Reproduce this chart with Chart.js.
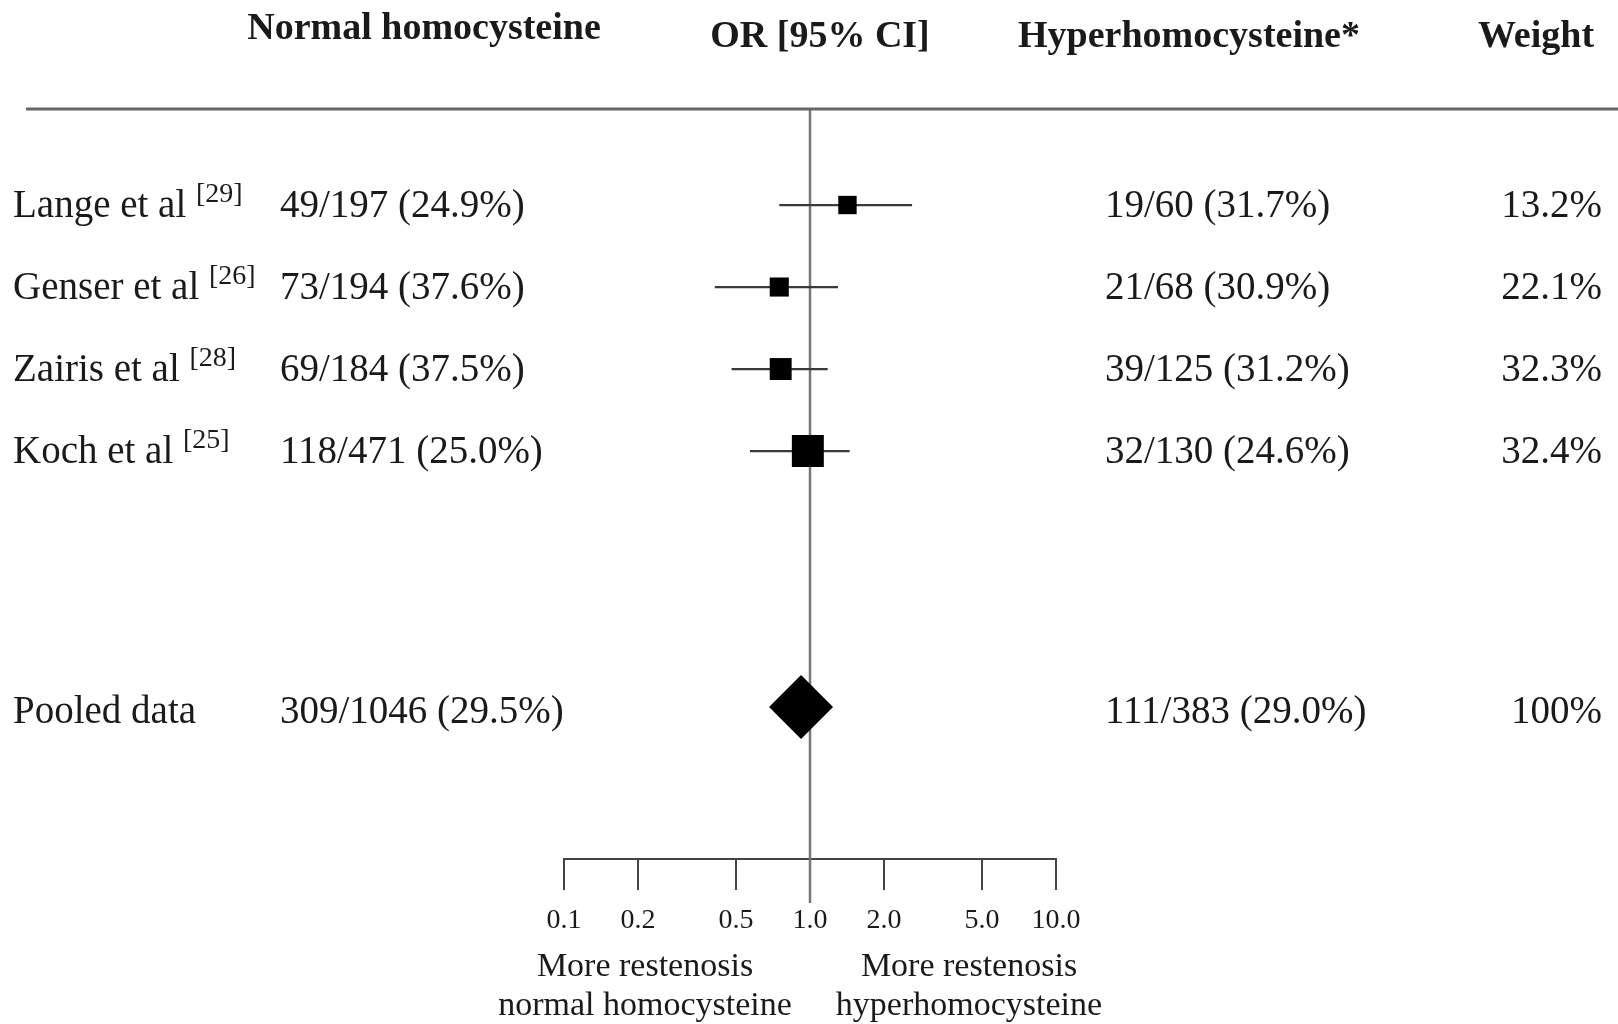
<!DOCTYPE html>
<html><head><meta charset="utf-8">
<script src="https://cdn.jsdelivr.net/npm/chart.js@4.4.1/dist/chart.umd.min.js"></script>
<style>html,body{margin:0;padding:0;background:#fff;overflow:hidden}canvas{display:block}</style>
</head><body>
<canvas id="c" width="1618" height="1024"></canvas>
<script>
// ---- data ----
const studies = ["Lange et al", "Genser et al", "Zairis et al", "Koch et al"];
const refs = ["[29]", "[26]", "[28]", "[25]"];
const normalCounts = ["49/197 (24.9%)", "73/194 (37.6%)", "69/184 (37.5%)", "118/471 (25.0%)"];
const hyperCounts = ["19/60 (31.7%)", "21/68 (30.9%)", "39/125 (31.2%)", "32/130 (24.6%)"];
const weights = ["13.2%", "22.1%", "32.3%", "32.4%"];
const oddsRatio = [1.42, 0.75, 0.76, 0.98];
const ciLow = [0.75, 0.41, 0.48, 0.57];
const ciHigh = [2.6, 1.30, 1.18, 1.45];
const rowPos = [1, 2, 3, 4];
const pooledLabel = "Pooled data";
const pooledNormal = "309/1046 (29.5%)";
const pooledHyper = "111/383 (29.0%)";
const pooledWeight = "100%";
const pooledOR = 0.92;
const pooledRow = 7.12;
const nullOR = 1;
const tickValues = [0.1, 0.2, 0.5, 1, 2, 5, 10];
const tickLabels = ["0.1", "0.2", "0.5", "1.0", "2.0", "5.0", "10.0"];
const headers = ["Normal homocysteine", "OR [95% CI]", "Hyperhomocysteine*", "Weight"];
const footLeft = ["More restenosis", "normal homocysteine"];
const footRight = ["More restenosis", "hyperhomocysteine"];

// ---- styles ----
const SERIF = '"Liberation Serif", "Times New Roman", serif';
const TEXT = '#1a1a1a';
const squareRadius = [13, 13.5, 15.5, 22.6];

const ciDatasets = rowPos.map((r, i) => ({
  type: 'line',
  data: [{x: ciLow[i], y: r}, {x: ciHigh[i], y: r}],
  borderColor: '#3a3a3a', borderWidth: 2.2, pointRadius: 0, order: 2
}));

const textPlugin = {
  id: 'forestText',
  beforeDatasetsDraw(chart) {
    const ctx = chart.ctx, xs = chart.scales.x;
    const x1 = xs.getPixelForValue(nullOR);
    ctx.save();
    ctx.strokeStyle = '#777';
    ctx.lineWidth = 2.5;
    ctx.beginPath();
    ctx.moveTo(x1, 109);
    ctx.lineTo(x1, 903);
    ctx.stroke();
    ctx.restore();
  },
  afterDraw(chart) {
    const ctx = chart.ctx, ys = chart.scales.y;
    ctx.save();
    // top rule
    ctx.strokeStyle = '#666';
    ctx.lineWidth = 3;
    ctx.beginPath(); ctx.moveTo(26, 109); ctx.lineTo(1618, 109); ctx.stroke();
    ctx.fillStyle = TEXT;
    // headers
    ctx.font = 'bold 38px ' + SERIF;
    ctx.textAlign = 'center'; ctx.textBaseline = 'middle';
    ctx.fillText(headers[0], 424, 29);
    ctx.fillText(headers[1], 820, 37);
    ctx.fillText(headers[2], 1189, 37);
    ctx.fillText(headers[3], 1536, 37);
    // rows
    const rowFont = '39px ' + SERIF, supFont = '28px ' + SERIF;
    const drawRow = (name, sup, a, b, w, r, dy) => {
      const y = ys.getPixelForValue(r) + dy;
      ctx.font = rowFont; ctx.textAlign = 'left';
      ctx.fillText(name, 13, y);
      if (sup) {
        const nw = ctx.measureText(name + ' ').width;
        ctx.font = supFont;
        ctx.fillText(sup, 13 + nw, y - 12);
        ctx.font = rowFont;
      }
      ctx.fillText(a, 280, y);
      ctx.fillText(b, 1105, y);
      ctx.textAlign = 'right';
      ctx.fillText(w, 1602, y);
    };
    studies.forEach((s, i) => drawRow(s, refs[i], normalCounts[i], hyperCounts[i], weights[i], rowPos[i], 2));
    drawRow(pooledLabel, null, pooledNormal, pooledHyper, pooledWeight, pooledRow, 6);
    // footer
    ctx.font = '34px ' + SERIF; ctx.textAlign = 'center';
    ctx.fillText(footLeft[0], 645, 967);
    ctx.fillText(footLeft[1], 645, 1006);
    ctx.fillText(footRight[0], 969, 967);
    ctx.fillText(footRight[1], 969, 1006);
    ctx.restore();
  }
};

new Chart(document.getElementById('c'), {
  type: 'scatter',
  data: {
    datasets: [
      {
        data: oddsRatio.map((v, i) => ({x: v, y: rowPos[i]})),
        pointStyle: 'rect', pointRadius: squareRadius, pointHoverRadius: squareRadius,
        backgroundColor: '#000', borderColor: '#000', borderWidth: 0, order: 0
      },
      {
        data: [{x: pooledOR, y: pooledRow}],
        pointStyle: 'rectRot', pointRadius: 32, pointHoverRadius: 32,
        backgroundColor: '#000', borderColor: '#000', borderWidth: 0, order: 0
      },
      ...ciDatasets
    ]
  },
  options: {
    responsive: false,
    devicePixelRatio: 1,
    animation: false,
    events: [],
    layout: {padding: {left: 564, right: 562, top: 109, bottom: 55}},
    plugins: {legend: {display: false}, tooltip: {enabled: false}},
    scales: {
      x: {
        type: 'logarithmic', min: 0.1, max: 10, position: 'bottom',
        afterBuildTicks: s => { s.ticks = tickValues.map(v => ({value: v})); },
        afterFit: s => { s.height = 110; },
        grid: {drawOnChartArea: false, drawTicks: true, tickLength: 31, color: '#444', lineWidth: 2},
        border: {display: true, color: '#444', width: 2},
        ticks: {autoSkip: false, maxRotation: 0, padding: 14, color: TEXT,
          font: {family: SERIF, size: 28}, callback: (v, i) => tickLabels[i]}
      },
      y: {
        type: 'linear', reverse: true, min: -0.171, max: 8.975, display: false
      }
    }
  },
  plugins: [textPlugin]
});
</script>
</body></html>
